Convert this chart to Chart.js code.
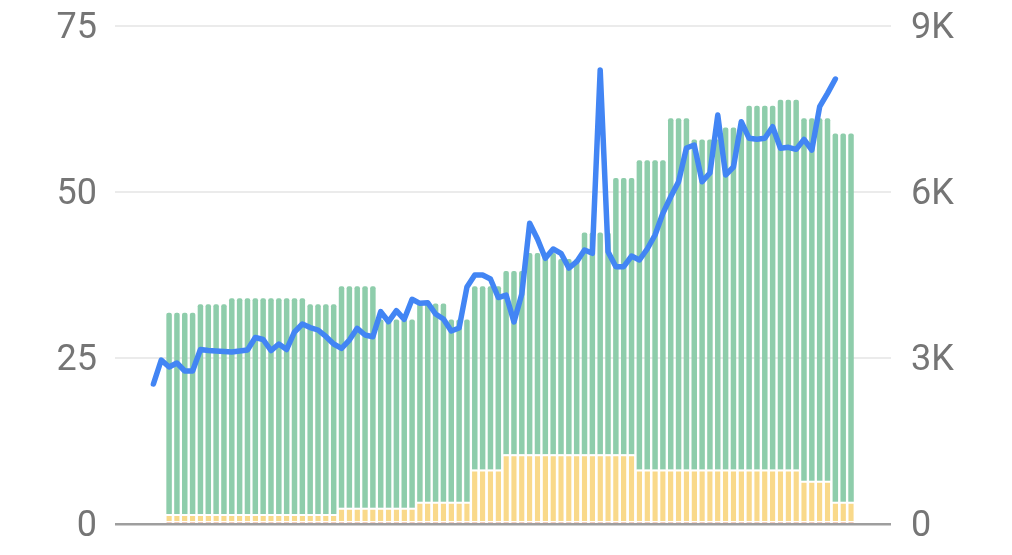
<!DOCTYPE html>
<html>
<head>
<meta charset="utf-8">
<script src="https://cdn.jsdelivr.net/npm/chart.js@4/dist/chart.umd.min.js"></script>
<style>
  html, body { margin: 0; padding: 0; background: #ffffff; }
  #wrap { width: 1012px; height: 555px; position: relative; }
</style>
</head>
<body>
<div id="wrap"><canvas id="c" width="1012" height="555"></canvas></div>
<script>
// Category slots (one per day); bars start at slot 2, line ends at slot 87
const categories = [
  0,1,2,3,4,5,6,7,8,9,10,11,12,13,14,15,16,17,18,19,
  20,21,22,23,24,25,26,27,28,29,30,31,32,33,34,35,36,37,38,39,
  40,41,42,43,44,45,46,47,48,49,50,51,52,53,54,55,56,57,58,59,
  60,61,62,63,64,65,66,67,68,69,70,71,72,73,74,75,76,77,78,79,
  80,81,82,83,84,85,86,87,88,89
];

// Bottom (salmon) stacked series, left axis
const seriesSalmon = [
  null,null,
  0.4,0.4,0.4,0.4,0.4,0.4,0.4,0.4,0.4,0.4,0.4,0.4,0.4,0.4,0.4,0.4,0.4,0.4,0.4,0.4,0.4,0.4,
  0.4,0.4,0.4,0.4,0.4,0.4,0.4,0.4,0.4,0.4,0.4,0.4,0.4,0.4,0.4,0.4,0.4,0.4,0.4,0.4,0.4,0.4,
  0.4,0.4,0.4,0.4,0.4,0.4,0.4,0.4,0.4,0.4,0.4,0.4,0.4,0.4,0.4,0.4,0.4,0.4,0.4,0.4,0.4,0.4,
  0.4,0.4,0.4,0.4,0.4,0.4,0.4,0.4,0.4,0.4,0.4,0.4,0.4,0.4,0.4,0.4,0.4,0.4,0.4,0.4,0.4,0.4
];

// Middle (yellow) stacked series, left axis
const seriesYellow = [
  null,null,
  1.1,1.1,1.1,1.1,1.1,1.1,1.1,1.1,1.1,1.1,1.1,1.1,1.1,1.1,1.1,1.1,1.1,1.1,1.1,1.1,1.1,1.1,
  2.05,2.05,2.05,2.05,2.05,2.05,2.05,2.05,2.05,2.05,
  2.96,2.96,2.96,2.96,2.96,2.96,2.96,
  7.8,7.8,7.8,7.8,
  10.1,10.1,10.1,10.1,10.1,10.1,10.1,10.1,10.1,10.1,10.1,10.1,10.1,10.1,10.1,10.1,10.1,
  7.8,7.8,7.8,7.8,7.8,7.8,7.8,7.8,7.8,7.8,7.8,7.8,7.8,7.8,7.8,7.8,7.8,7.8,7.8,7.8,7.8,
  6.1,6.1,6.1,6.1,
  2.96,2.96,2.96
];

// Top (green) stacked series, left axis
const seriesGreen = [
  null,null,
  30.3,30.3,30.3,30.3,
  31.6,31.6,31.6,31.6,
  32.5,32.5,32.5,32.5,32.5,32.5,32.5,32.5,32.5,32.5,
  31.6,31.6,31.6,31.6,
  33.35,33.35,33.35,33.35,33.35,
  28.35,28.35,28.35,28.35,28.35,
  29.84,29.84,29.84,29.84,
  27.44,27.44,27.44,
  27.6,27.6,27.6,27.6,
  27.6,27.6,27.6,
  30.3,30.3,30.3,30.3,
  29.4,29.4,29.4,
  33.4,33.4,33.4,33.4,
  41.6,41.6,41.6,
  46.6,46.6,46.6,46.6,
  52.9,52.9,52.9,
  49.7,49.7,49.7,49.7,
  51.5,51.5,51.5,
  54.8,54.8,54.8,54.8,
  55.7,55.7,55.7,
  54.6,54.6,54.6,54.6,
  55.44,55.44,55.44
];

// Blue line series, right axis
const seriesLine = [
  2530, 2964, 2837, 2910, 2765, 2765, 3154, 3135, 3126, 3117,
  3108, 3126, 3145, 3370, 3334, 3135, 3253, 3154, 3470, 3614,
  3551, 3506, 3389, 3253, 3175, 3325, 3537, 3416, 3385, 3837,
  3656, 3855, 3699, 4061, 3988, 3999, 3795, 3705, 3488, 3542,
  4283, 4500, 4500, 4428, 4093, 4138, 3651, 4157, 5434, 5151,
  4802, 4970, 4892, 4626, 4740, 4952, 4892, 8205, 4921, 4650,
  4650, 4843, 4771, 4970, 5223, 5615, 5915, 6186, 6795, 6849,
  6186, 6343, 7391, 6307, 6452, 7270, 6970, 6952, 6970, 7180,
  6790, 6808, 6771, 6952, 6759, 7541, 7783, 8042, null, null
];

const leftTicks = [0, 25, 50, 75];
const rightTicks = [0, 3000, 6000, 9000];
const rightTickLabels = ["0", "3K", "6K", "9K"];

const toPoints = arr => categories.map((c, i) => ({ x: c, y: arr[i] }));

const tickFont = { family: "Roboto", size: 36 };
const tickColor = "#757575";

new Chart(document.getElementById("c"), {
  type: "bar",
  data: {
    datasets: [
      {
        type: "line",
        data: toPoints(seriesLine),
        yAxisID: "y1",
        borderColor: "#4285F4",
        borderWidth: 5.5,
        pointRadius: 0,
        tension: 0,
        borderJoinStyle: "round",
        borderCapStyle: "round",
        fill: false,
        order: 0
      },
      {
        data: toPoints(seriesSalmon),
        yAxisID: "y",
        stack: "s",
        backgroundColor: "#E6A58F",
        borderColor: "#ffffff",
        borderWidth: { top: 1, left: 0, right: 0, bottom: 0 },
        order: 1
      },
      {
        data: toPoints(seriesYellow),
        yAxisID: "y",
        stack: "s",
        backgroundColor: "#F9D98A",
        borderColor: "#ffffff",
        borderWidth: { top: 2, left: 0, right: 0, bottom: 0 },
        order: 1
      },
      {
        data: toPoints(seriesGreen),
        yAxisID: "y",
        stack: "s",
        backgroundColor: "#8ECDAB",
        borderWidth: 0,
        borderRadius: 2,
        order: 1
      }
    ]
  },
  options: {
    responsive: false,
    animation: false,
    events: [],
    layout: { padding: { top: 26, bottom: 31, left: 0, right: 0 } },
    datasets: {
      bar: { categoryPercentage: 1.0, barPercentage: 0.7 }
    },
    plugins: { legend: { display: false }, tooltip: { enabled: false } },
    scales: {
      x: {
        type: "linear",
        min: -4.9,
        max: 94.1,
        offset: false,
        stacked: true,
        display: false
      },
      y: {
        position: "left",
        stacked: true,
        min: 0,
        max: 75,
        afterFit: s => { s.width = 115; s.paddingTop = 0; s.paddingBottom = 0; },
        afterBuildTicks: s => { s.ticks = leftTicks.map(v => ({ value: v })); },
        border: { display: false },
        grid: {
          drawTicks: false,
          color: c => (c.tick && c.tick.value === 0 ? "#9E9E9E" : "#EBEBEB"),
          lineWidth: c => (c.tick && c.tick.value === 0 ? 2.5 : 2)
        },
        ticks: { padding: 18, labelOffset: 3, color: tickColor, font: tickFont }
      },
      y1: {
        position: "right",
        min: 0,
        max: 9000,
        afterFit: s => { s.width = 121; s.paddingTop = 0; s.paddingBottom = 0; },
        afterBuildTicks: s => { s.ticks = rightTicks.map(v => ({ value: v })); },
        border: { display: false },
        grid: { display: false, drawTicks: false },
        ticks: {
          padding: 20,
          labelOffset: 3,
          color: tickColor,
          font: tickFont,
          callback: v => rightTickLabels[rightTicks.indexOf(v)]
        }
      }
    }
  }
});
</script>
</body>
</html>
